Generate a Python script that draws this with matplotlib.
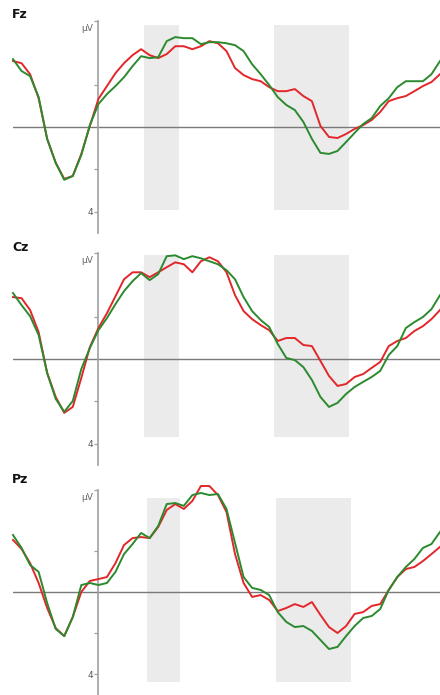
import numpy as np
import matplotlib
matplotlib.use("Agg")
import matplotlib.pyplot as plt

# Time axis (ms), sampled every 20 ms
times = np.arange(-200, 801, 20)

# Grand-average ERPs (µV) per electrode, two conditions
fz_red = [-3.11, -3.01, -2.49, -1.36, 0.56, 1.69, 2.45, 2.31, 1.27, -0.05,
          -1.32, -1.93, -2.54, -3.01, -3.39, -3.67, -3.39, -3.25, -3.44, -3.81,
          -3.81, -3.67, -3.81, -4.05, -3.95, -3.58, -2.78, -2.45, -2.26, -2.16,
          -1.88, -1.69, -1.69, -1.79, -1.46, -1.22, -0.05, 0.47, 0.52, 0.33,
          0.09, -0.09, -0.33, -0.71, -1.22, -1.36, -1.46, -1.69, -1.93, -2.12,
          -2.49]
fz_green = [-3.20, -2.64, -2.40, -1.41, 0.56, 1.69, 2.49, 2.31, 1.32, -0.09,
            -1.08, -1.55, -1.93, -2.35, -2.87, -3.34, -3.25, -3.29, -4.05, -4.24,
            -4.19, -4.19, -3.91, -4.00, -4.00, -3.95, -3.86, -3.58, -2.96, -2.49,
            -1.98, -1.41, -1.04, -0.80, -0.24, 0.56, 1.22, 1.27, 1.13, 0.71,
            0.28, -0.14, -0.42, -0.99, -1.36, -1.88, -2.16, -2.16, -2.16, -2.49,
            -3.11]
cz_red = [-2.92, -2.87, -2.31, -1.27, 0.66, 1.79, 2.54, 2.26, 0.89, -0.56,
          -1.46, -2.16, -2.96, -3.76, -4.09, -4.09, -3.86, -4.09, -4.33, -4.56,
          -4.47, -4.09, -4.61, -4.80, -4.61, -4.09, -3.01, -2.26, -1.88, -1.60,
          -1.36, -0.85, -0.99, -0.99, -0.66, -0.61, 0.09, 0.80, 1.27, 1.18,
          0.85, 0.71, 0.42, 0.14, -0.61, -0.85, -0.99, -1.32, -1.55, -1.88,
          -2.31]
cz_green = [-3.11, -2.54, -2.02, -1.13, 0.66, 1.88, 2.49, 1.98, 0.47, -0.52,
            -1.36, -1.93, -2.59, -3.20, -3.67, -4.05, -3.72, -4.00, -4.85, -4.89,
            -4.71, -4.85, -4.75, -4.61, -4.47, -4.19, -3.76, -2.92, -2.26, -1.84,
            -1.51, -0.71, -0.05, 0.05, 0.38, 0.99, 1.79, 2.26, 2.07, 1.65,
            1.32, 1.08, 0.85, 0.56, -0.19, -0.61, -1.46, -1.74, -1.98, -2.35,
            -3.01]
pz_red = [-2.54, -2.10, -1.41, -0.44, 0.78, 1.76, 2.15, 1.22, 0.00, -0.54,
          -0.63, -0.73, -1.41, -2.29, -2.63, -2.68, -2.63, -3.17, -4.00, -4.29,
          -4.05, -4.44, -5.17, -5.17, -4.73, -3.90, -1.85, -0.44, 0.24, 0.15,
          0.39, 0.93, 0.78, 0.59, 0.73, 0.49, 1.12, 1.71, 2.00, 1.66,
          1.07, 0.98, 0.68, 0.59, -0.10, -0.73, -1.12, -1.22, -1.51, -1.85,
          -2.20]
pz_green = [-2.78, -2.15, -1.32, -0.98, 0.54, 1.80, 2.15, 1.22, -0.34, -0.44,
            -0.34, -0.44, -0.98, -1.85, -2.34, -2.88, -2.63, -3.22, -4.29, -4.34,
            -4.20, -4.73, -4.83, -4.73, -4.78, -4.05, -2.39, -0.73, -0.20, -0.10,
            0.15, 0.98, 1.46, 1.71, 1.66, 1.90, 2.34, 2.78, 2.68, 2.15,
            1.66, 1.27, 1.17, 0.83, -0.10, -0.73, -1.22, -1.61, -2.15, -2.34,
            -2.93]

electrodes = ["Fz", "Cz", "Pz"]
red_series = [fz_red, cz_red, pz_red]
green_series = [fz_green, cz_green, pz_green]

# Analysis windows (ms) and their vertical extent (µV) for each electrode
windows = [[(107, 189), (411, 587)],
           [(107, 189), (411, 587)],
           [(114, 191), (416, 592)]]
window_span = [(-4.8, 3.9), (-4.9, 3.7), (-4.6, 4.4)]

RED = "#e3262a"
GREEN = "#2b8a2e"
GREY_AX = "#a0a0a0"

W, H = 440, 695
fig = plt.figure(figsize=(W / 100, H / 100), dpi=100)
fig.patch.set_facecolor("white")

# panel placement in pixels: (top, bottom) of the -5..5 µV range
panel_px = [(21, 233), (253, 465), (489.5, 694.5)]
label_y = [14.5, 247, 479.5]
x0_px, x1_px = 13, 440

for i, name in enumerate(electrodes):
    top, bot = panel_px[i]
    ax = fig.add_axes([x0_px / W, 1 - bot / H, (x1_px - x0_px) / W, (bot - top) / H])
    ax.set_xlim(times[0], times[-1])
    ax.set_ylim(5, -5)
    ax.set_facecolor("none")

    lo, hi = window_span[i]
    for (a, b) in windows[i]:
        ax.fill_between([a, b], lo, hi, color="#ebebeb", lw=0, zorder=0)

    ax.axhline(0, color="#7a7a7a", lw=1.0, zorder=1)

    for s in ["top", "right", "bottom"]:
        ax.spines[s].set_visible(False)
    ax.spines["left"].set_position(("data", 0))
    ax.spines["left"].set_color(GREY_AX)
    ax.spines["left"].set_linewidth(1.2)
    ax.spines["left"].set_bounds(-5, 5)
    ax.spines["left"].set_zorder(1)

    ax.set_xticks([])
    ax.set_yticks([-5, -2, 2, 4])
    ax.set_yticklabels(["", "", "", "4"])
    ax.tick_params(axis="y", length=3, width=0.9, color=GREY_AX,
                   labelsize=6.5, labelcolor="#555555", pad=1)
    ax.annotate("µV", xy=(0, -5), xytext=(-4, -2.5), textcoords="offset points",
                ha="right", va="top", fontsize=6.5, color="#666666")

    ax.plot(times, red_series[i], color=RED, lw=1.4, clip_on=False, zorder=3)
    ax.plot(times, green_series[i], color=GREEN, lw=1.4, clip_on=False, zorder=4)

    fig.text(12 / W, 1 - label_y[i] / H, name, fontsize=9, fontweight="bold",
             ha="left", va="center", color="#111111")

fig.savefig("out.png", dpi=100, facecolor="white")
